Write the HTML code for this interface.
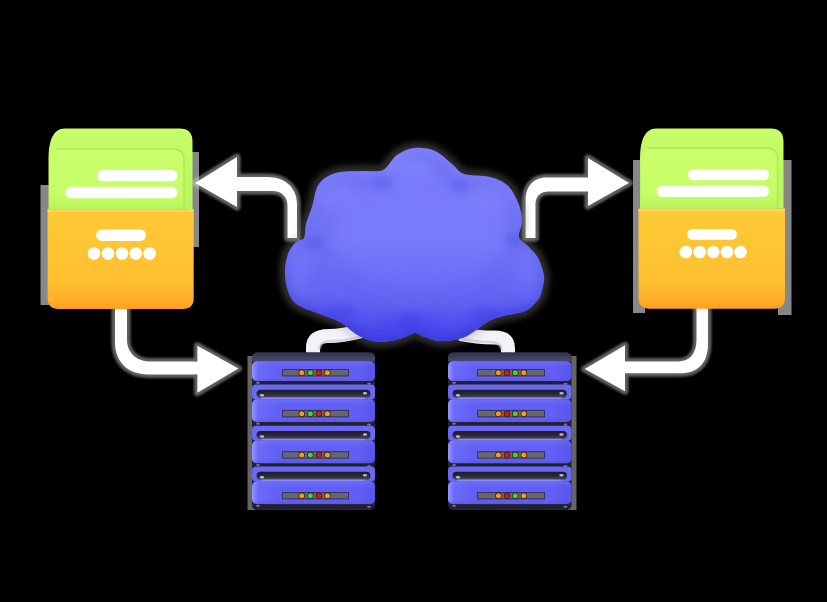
<!DOCTYPE html>
<html><head><meta charset="utf-8"><style>
html,body{margin:0;padding:0;background:#000;width:827px;height:602px;overflow:hidden}
svg{display:block}
</style></head><body>
<svg width="827" height="602" viewBox="0 0 827 602">
<defs>
<linearGradient id="gBack" x1="0" y1="0" x2="0" y2="1"><stop offset="0" stop-color="#c6fd68"/><stop offset="1" stop-color="#bbf45e"/></linearGradient>
<linearGradient id="gFront" x1="0" y1="0" x2="0" y2="1"><stop offset="0" stop-color="#cbff6c"/><stop offset="0.75" stop-color="#c6fd66"/><stop offset="1" stop-color="#b9f35c"/></linearGradient>
<linearGradient id="gOrange" x1="0" y1="0" x2="0" y2="1"><stop offset="0" stop-color="#ffca36"/><stop offset="0.7" stop-color="#ffc030"/><stop offset="0.9" stop-color="#ffb02a"/><stop offset="1" stop-color="#ff9e20"/></linearGradient>
<linearGradient id="gFace" x1="0" y1="0" x2="1" y2="0"><stop offset="0" stop-color="#9896ff"/><stop offset="0.05" stop-color="#6c6af8"/><stop offset="0.2" stop-color="#6260f4"/><stop offset="0.85" stop-color="#6260f4"/><stop offset="1" stop-color="#5856ea"/></linearGradient><linearGradient id="gFaceV" x1="0" y1="0" x2="0" y2="1"><stop offset="0" stop-color="#8886ff" stop-opacity="0.35"/><stop offset="0.3" stop-color="#7674ff" stop-opacity="0"/><stop offset="0.8" stop-color="#4a48d0" stop-opacity="0"/><stop offset="1" stop-color="#4a48d0" stop-opacity="0.35"/></linearGradient><linearGradient id="gCap" x1="0" y1="0" x2="0" y2="1"><stop offset="0" stop-color="#30304a"/><stop offset="1" stop-color="#4a4a70"/></linearGradient>
<radialGradient id="gCloud" gradientUnits="userSpaceOnUse" cx="405" cy="230" r="150"><stop offset="0" stop-color="#7a7bfa"/><stop offset="0.6" stop-color="#6e70f2"/><stop offset="1" stop-color="#5250dc"/></radialGradient>
<filter id="blur8" x="-50%" y="-50%" width="200%" height="200%"><feGaussianBlur stdDeviation="8"/></filter>
<filter id="blur3" x="-50%" y="-50%" width="200%" height="200%"><feGaussianBlur stdDeviation="3"/></filter>
<linearGradient id="gRim" gradientUnits="userSpaceOnUse" x1="0" y1="150" x2="0" y2="340"><stop offset="0" stop-color="#8a8cff" stop-opacity="0.5"/><stop offset="0.5" stop-color="#6a6cf0" stop-opacity="0.3"/><stop offset="1" stop-color="#3a38d8" stop-opacity="0.8"/></linearGradient>
<linearGradient id="gCloudDark" x1="0" y1="0" x2="0" y2="1"><stop offset="0" stop-color="#4644f0" stop-opacity="0"/><stop offset="0.5" stop-color="#4644f0" stop-opacity="0.3"/><stop offset="1" stop-color="#4240ec" stop-opacity="0.6"/></linearGradient>
<filter id="blur1" x="-50%" y="-50%" width="200%" height="200%"><feGaussianBlur stdDeviation="1.2"/></filter>
<linearGradient id="gSlot" x1="0" y1="0" x2="0" y2="1"><stop offset="0" stop-color="#1c1c28"/><stop offset="0.55" stop-color="#2a2a38"/><stop offset="1" stop-color="#4a4a5c"/></linearGradient>
<filter id="blur05" x="-50%" y="-50%" width="200%" height="200%"><feGaussianBlur stdDeviation="0.7"/></filter>
</defs>
<rect width="827" height="602" fill="#000"/>
<g fill="#c0c0c0" opacity="0.7" filter="url(#blur05)">
<rect x="40.5" y="185" width="12" height="120"/>
<rect x="188" y="152" width="11" height="95"/>
<rect x="633" y="160" width="12" height="153"/>
<rect x="778" y="160" width="13.5" height="155"/>
</g>
<g fill="#a8a8a8" opacity="0.6" filter="url(#blur05)">
<rect x="247.5" y="356" width="8" height="154"/>
<rect x="568" y="356" width="8.5" height="154"/>
</g>

<g opacity="0.45" filter="url(#blur1)" fill="#d4d4d4" stroke="#d4d4d4" stroke-width="7" stroke-linejoin="round"><path d="M236,177 L268,177 C285,177 297,188 297,204 L297,238 L287.5,238 L287.5,206 C287.5,197 282,191 272,191 L236,191 Z"/><polygon points="237,157 195,183 237,207"/></g>
<path d="M236,177 L268,177 C285,177 297,188 297,204 L297,238 L287.5,238 L287.5,206 C287.5,197 282,191 272,191 L236,191 Z" fill="#ffffff"/>
<polygon points="237,157 195,183 237,207" fill="#ffffff"/>
<g opacity="0.45" filter="url(#blur1)" fill="#d4d4d4" stroke="#d4d4d4" stroke-width="7" stroke-linejoin="round"><path d="M589,177.5 L546,177.5 C533,177.5 525.6,187 525.6,200 L525.6,238 L535.5,238 L535.5,204 C535.5,196 541,191.5 549,191.5 L589,191.5 Z"/><polygon points="588,158 629,183 588,206"/></g>
<path d="M589,177.5 L546,177.5 C533,177.5 525.6,187 525.6,200 L525.6,238 L535.5,238 L535.5,204 C535.5,196 541,191.5 549,191.5 L589,191.5 Z" fill="#ffffff"/>
<polygon points="588,158 629,183 588,206" fill="#ffffff"/>
<g opacity="0.45" filter="url(#blur1)" fill="#d4d4d4" stroke="#d4d4d4" stroke-width="7" stroke-linejoin="round"><path d="M115,308 L115,342 C115,362 128,374.4 148,374.4 L199,374.4 L199,361.5 L150,361.5 C136,361.5 127,352 127,340 L127,308 Z"/><polygon points="197.4,345.8 238.5,368.5 197.4,392.8"/></g>
<path d="M115,308 L115,342 C115,362 128,374.4 148,374.4 L199,374.4 L199,361.5 L150,361.5 C136,361.5 127,352 127,340 L127,308 Z" fill="#ffffff"/>
<polygon points="197.4,345.8 238.5,368.5 197.4,392.8" fill="#ffffff"/>
<g opacity="0.45" filter="url(#blur1)" fill="#d4d4d4" stroke="#d4d4d4" stroke-width="7" stroke-linejoin="round"><path d="M696.5,308 L696.5,340 C696.5,353 690,361.5 678,361.5 L623,361.5 L623,373.3 L680,373.3 C698,373.3 708,363 708,344 L708,308 Z"/><polygon points="625,345.3 584.7,369 625,391.2"/></g>
<path d="M696.5,308 L696.5,340 C696.5,353 690,361.5 678,361.5 L623,361.5 L623,373.3 L680,373.3 C698,373.3 708,363 708,344 L708,308 Z" fill="#ffffff"/>
<polygon points="625,345.3 584.7,369 625,391.2" fill="#ffffff"/>
<path d="M313,356 L313,348 C313,339 318,336 329,336 C342,336 350,334 362,331" fill="none" stroke="#f2f2f8" stroke-width="14"/>
<path d="M319,350 C320,343 324,341 332,341 C343,341 352,339 362,336" fill="none" stroke="#c8c8dc" stroke-width="2.5" opacity="0.7"/>
<path d="M508,356 L508,348 C508,340 504,337.5 494,337.5 C482,337.5 474,337 460,334" fill="none" stroke="#f2f2f8" stroke-width="14"/>
<path d="M502,350 C501,345 498,342 490,342 C480,342 472,341 462,339" fill="none" stroke="#c8c8dc" stroke-width="2.5" opacity="0.7"/>

<clipPath id="cloudClip"><path d="M415.0,148.0 C421.3,147.3 428.8,148.3 435.0,151.0 C441.2,153.7 447.2,160.2 452.0,164.0 C456.8,167.8 457.7,171.8 464.0,174.0 C470.3,176.2 482.7,175.0 490.0,177.0 C497.3,179.0 503.2,181.3 508.0,186.0 C512.8,190.7 516.7,199.0 519.0,205.0 C521.3,211.0 522.0,216.7 522.0,222.0 C522.0,227.3 518.0,233.0 519.0,237.0 C520.0,241.0 524.8,242.5 528.0,246.0 C531.2,249.5 535.3,253.0 538.0,258.0 C540.7,263.0 543.3,270.7 544.0,276.0 C544.7,281.3 543.0,286.0 542.0,290.0 C541.0,294.0 540.8,296.5 538.0,300.0 C535.2,303.5 530.8,308.3 525.0,311.0 C519.2,313.7 509.0,314.3 503.0,316.0 C497.0,317.7 493.5,318.7 489.0,321.0 C484.5,323.3 480.5,327.2 476.0,330.0 C471.5,332.8 468.0,336.2 462.0,338.0 C456.0,339.8 446.2,341.2 440.0,341.0 C433.8,340.8 429.2,338.3 425.0,337.0 C420.8,335.7 418.3,333.0 415.0,333.0 C411.7,333.0 409.2,335.7 405.0,337.0 C400.8,338.3 395.5,340.3 390.0,341.0 C384.5,341.7 377.7,342.2 372.0,341.0 C366.3,339.8 361.3,337.2 356.0,334.0 C350.7,330.8 346.0,325.3 340.0,322.0 C334.0,318.7 326.7,316.7 320.0,314.0 C313.3,311.3 305.0,309.0 300.0,306.0 C295.0,303.0 292.5,301.3 290.0,296.0 C287.5,290.7 285.3,281.0 285.0,274.0 C284.7,267.0 286.2,259.3 288.0,254.0 C289.8,248.7 293.3,244.7 296.0,242.0 C298.7,239.3 302.3,241.0 304.0,238.0 C305.7,235.0 304.7,229.2 306.0,224.0 C307.3,218.8 309.8,213.7 312.0,207.0 C314.2,200.3 315.0,189.7 319.0,184.0 C323.0,178.3 328.8,175.2 336.0,173.0 C343.2,170.8 354.2,171.5 362.0,171.0 C369.8,170.5 377.2,172.7 383.0,170.0 C388.8,167.3 391.7,158.7 397.0,155.0 C402.3,151.3 408.7,148.7 415.0,148.0 Z"/></clipPath>
<path d="M415.0,148.0 C421.3,147.3 428.8,148.3 435.0,151.0 C441.2,153.7 447.2,160.2 452.0,164.0 C456.8,167.8 457.7,171.8 464.0,174.0 C470.3,176.2 482.7,175.0 490.0,177.0 C497.3,179.0 503.2,181.3 508.0,186.0 C512.8,190.7 516.7,199.0 519.0,205.0 C521.3,211.0 522.0,216.7 522.0,222.0 C522.0,227.3 518.0,233.0 519.0,237.0 C520.0,241.0 524.8,242.5 528.0,246.0 C531.2,249.5 535.3,253.0 538.0,258.0 C540.7,263.0 543.3,270.7 544.0,276.0 C544.7,281.3 543.0,286.0 542.0,290.0 C541.0,294.0 540.8,296.5 538.0,300.0 C535.2,303.5 530.8,308.3 525.0,311.0 C519.2,313.7 509.0,314.3 503.0,316.0 C497.0,317.7 493.5,318.7 489.0,321.0 C484.5,323.3 480.5,327.2 476.0,330.0 C471.5,332.8 468.0,336.2 462.0,338.0 C456.0,339.8 446.2,341.2 440.0,341.0 C433.8,340.8 429.2,338.3 425.0,337.0 C420.8,335.7 418.3,333.0 415.0,333.0 C411.7,333.0 409.2,335.7 405.0,337.0 C400.8,338.3 395.5,340.3 390.0,341.0 C384.5,341.7 377.7,342.2 372.0,341.0 C366.3,339.8 361.3,337.2 356.0,334.0 C350.7,330.8 346.0,325.3 340.0,322.0 C334.0,318.7 326.7,316.7 320.0,314.0 C313.3,311.3 305.0,309.0 300.0,306.0 C295.0,303.0 292.5,301.3 290.0,296.0 C287.5,290.7 285.3,281.0 285.0,274.0 C284.7,267.0 286.2,259.3 288.0,254.0 C289.8,248.7 293.3,244.7 296.0,242.0 C298.7,239.3 302.3,241.0 304.0,238.0 C305.7,235.0 304.7,229.2 306.0,224.0 C307.3,218.8 309.8,213.7 312.0,207.0 C314.2,200.3 315.0,189.7 319.0,184.0 C323.0,178.3 328.8,175.2 336.0,173.0 C343.2,170.8 354.2,171.5 362.0,171.0 C369.8,170.5 377.2,172.7 383.0,170.0 C388.8,167.3 391.7,158.7 397.0,155.0 C402.3,151.3 408.7,148.7 415.0,148.0 Z" fill="none" stroke="#9a9a9a" stroke-width="11" opacity="0.3" filter="url(#blur3)"/>
<path d="M415.0,148.0 C421.3,147.3 428.8,148.3 435.0,151.0 C441.2,153.7 447.2,160.2 452.0,164.0 C456.8,167.8 457.7,171.8 464.0,174.0 C470.3,176.2 482.7,175.0 490.0,177.0 C497.3,179.0 503.2,181.3 508.0,186.0 C512.8,190.7 516.7,199.0 519.0,205.0 C521.3,211.0 522.0,216.7 522.0,222.0 C522.0,227.3 518.0,233.0 519.0,237.0 C520.0,241.0 524.8,242.5 528.0,246.0 C531.2,249.5 535.3,253.0 538.0,258.0 C540.7,263.0 543.3,270.7 544.0,276.0 C544.7,281.3 543.0,286.0 542.0,290.0 C541.0,294.0 540.8,296.5 538.0,300.0 C535.2,303.5 530.8,308.3 525.0,311.0 C519.2,313.7 509.0,314.3 503.0,316.0 C497.0,317.7 493.5,318.7 489.0,321.0 C484.5,323.3 480.5,327.2 476.0,330.0 C471.5,332.8 468.0,336.2 462.0,338.0 C456.0,339.8 446.2,341.2 440.0,341.0 C433.8,340.8 429.2,338.3 425.0,337.0 C420.8,335.7 418.3,333.0 415.0,333.0 C411.7,333.0 409.2,335.7 405.0,337.0 C400.8,338.3 395.5,340.3 390.0,341.0 C384.5,341.7 377.7,342.2 372.0,341.0 C366.3,339.8 361.3,337.2 356.0,334.0 C350.7,330.8 346.0,325.3 340.0,322.0 C334.0,318.7 326.7,316.7 320.0,314.0 C313.3,311.3 305.0,309.0 300.0,306.0 C295.0,303.0 292.5,301.3 290.0,296.0 C287.5,290.7 285.3,281.0 285.0,274.0 C284.7,267.0 286.2,259.3 288.0,254.0 C289.8,248.7 293.3,244.7 296.0,242.0 C298.7,239.3 302.3,241.0 304.0,238.0 C305.7,235.0 304.7,229.2 306.0,224.0 C307.3,218.8 309.8,213.7 312.0,207.0 C314.2,200.3 315.0,189.7 319.0,184.0 C323.0,178.3 328.8,175.2 336.0,173.0 C343.2,170.8 354.2,171.5 362.0,171.0 C369.8,170.5 377.2,172.7 383.0,170.0 C388.8,167.3 391.7,158.7 397.0,155.0 C402.3,151.3 408.7,148.7 415.0,148.0 Z" fill="#7173f4"/>
<g clip-path="url(#cloudClip)">
<g filter="url(#blur8)">
<ellipse cx="420" cy="235" rx="85" ry="55" fill="#7b7dfb" opacity="0.8"/>
<ellipse cx="410" cy="168" rx="26" ry="12" fill="#8587ff" opacity="0.7"/>
<ellipse cx="335" cy="195" rx="22" ry="14" fill="#8284fd" opacity="0.6"/>
<ellipse cx="490" cy="198" rx="22" ry="14" fill="#8284fd" opacity="0.6"/>
<ellipse cx="300" cy="272" rx="10" ry="22" fill="#8486ff" opacity="0.5"/>
<ellipse cx="528" cy="272" rx="10" ry="20" fill="#8486ff" opacity="0.5"/>
<ellipse cx="415" cy="345" rx="150" ry="30" fill="#4644ea" opacity="0.8"/>
<ellipse cx="305" cy="320" rx="30" ry="15" fill="#4644ea" opacity="0.5"/>
<ellipse cx="525" cy="320" rx="30" ry="15" fill="#4644ea" opacity="0.5"/>
</g>
<g filter="url(#blur3)">
<ellipse cx="342" cy="312" rx="16" ry="8" fill="#3e3ce0" opacity="0.45"/>
<ellipse cx="411" cy="322" rx="12" ry="9" fill="#3e3ce0" opacity="0.5"/>
<ellipse cx="485" cy="314" rx="16" ry="8" fill="#3e3ce0" opacity="0.45"/>
<ellipse cx="383" cy="183" rx="10" ry="7" fill="#5a5ae8" opacity="0.45"/>
<ellipse cx="460" cy="186" rx="10" ry="7" fill="#5a5ae8" opacity="0.45"/>
<ellipse cx="314" cy="242" rx="10" ry="8" fill="#5252e4" opacity="0.45"/>
<ellipse cx="516" cy="240" rx="10" ry="8" fill="#5252e4" opacity="0.45"/>
<ellipse cx="372" cy="318" rx="16" ry="7" fill="#6a6af4" opacity="0.35"/>
<ellipse cx="450" cy="320" rx="16" ry="7" fill="#6a6af4" opacity="0.35"/>
</g>
<rect x="280" y="240" width="270" height="110" fill="url(#gCloudDark)"/>
<path d="M415.0,148.0 C421.3,147.3 428.8,148.3 435.0,151.0 C441.2,153.7 447.2,160.2 452.0,164.0 C456.8,167.8 457.7,171.8 464.0,174.0 C470.3,176.2 482.7,175.0 490.0,177.0 C497.3,179.0 503.2,181.3 508.0,186.0 C512.8,190.7 516.7,199.0 519.0,205.0 C521.3,211.0 522.0,216.7 522.0,222.0 C522.0,227.3 518.0,233.0 519.0,237.0 C520.0,241.0 524.8,242.5 528.0,246.0 C531.2,249.5 535.3,253.0 538.0,258.0 C540.7,263.0 543.3,270.7 544.0,276.0 C544.7,281.3 543.0,286.0 542.0,290.0 C541.0,294.0 540.8,296.5 538.0,300.0 C535.2,303.5 530.8,308.3 525.0,311.0 C519.2,313.7 509.0,314.3 503.0,316.0 C497.0,317.7 493.5,318.7 489.0,321.0 C484.5,323.3 480.5,327.2 476.0,330.0 C471.5,332.8 468.0,336.2 462.0,338.0 C456.0,339.8 446.2,341.2 440.0,341.0 C433.8,340.8 429.2,338.3 425.0,337.0 C420.8,335.7 418.3,333.0 415.0,333.0 C411.7,333.0 409.2,335.7 405.0,337.0 C400.8,338.3 395.5,340.3 390.0,341.0 C384.5,341.7 377.7,342.2 372.0,341.0 C366.3,339.8 361.3,337.2 356.0,334.0 C350.7,330.8 346.0,325.3 340.0,322.0 C334.0,318.7 326.7,316.7 320.0,314.0 C313.3,311.3 305.0,309.0 300.0,306.0 C295.0,303.0 292.5,301.3 290.0,296.0 C287.5,290.7 285.3,281.0 285.0,274.0 C284.7,267.0 286.2,259.3 288.0,254.0 C289.8,248.7 293.3,244.7 296.0,242.0 C298.7,239.3 302.3,241.0 304.0,238.0 C305.7,235.0 304.7,229.2 306.0,224.0 C307.3,218.8 309.8,213.7 312.0,207.0 C314.2,200.3 315.0,189.7 319.0,184.0 C323.0,178.3 328.8,175.2 336.0,173.0 C343.2,170.8 354.2,171.5 362.0,171.0 C369.8,170.5 377.2,172.7 383.0,170.0 C388.8,167.3 391.7,158.7 397.0,155.0 C402.3,151.3 408.7,148.7 415.0,148.0 Z" fill="none" stroke="url(#gRim)" stroke-width="10" filter="url(#blur3)"/>
</g>

<path d="M48.5,209.3 L48.5,158.4 C48.5,140.4 53.5,128.4 64.5,128.4 L179.5,128.4 Q192.5,128.4 192.5,141.4 L192.5,209.3 Z" fill="url(#gBack)"/>
<path d="M49.5,209.3 L49.5,163 C49.5,155 53.5,149 62.5,149 L173,149 Q184,149 184,160 L184,209.3 Z" fill="url(#gFront)"/>
<path d="M56.5,149 L173,149 Q184,149 184,160 L184,209.3" fill="none" stroke="#a6e24e" stroke-width="1.3" opacity="0.8"/>
<path d="M56.5,150.3 L173,150.3" fill="none" stroke="#d4ff80" stroke-width="1" opacity="0.6"/>
<rect x="97" y="170" width="80.5" height="11.300000000000011" rx="5.650000000000006" fill="#ffffff"/>
<rect x="65.5" y="186.8" width="112.0" height="11.399999999999977" rx="5.699999999999989" fill="#ffffff"/>
<path d="M47.6,209.3 L193.7,209.3 L193.7,298 Q193.7,309 182.7,309 L58.6,309 Q47.6,309 47.6,298 Z" fill="url(#gOrange)"/>
<rect x="47.6" y="209.3" width="146.1" height="2.5" fill="#ffd860" opacity="0.9"/>
<rect x="96" y="229.6" width="50" height="11.400000000000006" rx="5.700000000000003" fill="#ffffff"/>
<circle cx="94" cy="253.5" r="6.3" fill="#ffffff"/>
<circle cx="108" cy="253.5" r="6.3" fill="#ffffff"/>
<circle cx="122" cy="253.5" r="6.3" fill="#ffffff"/>
<circle cx="135.8" cy="253.5" r="6.3" fill="#ffffff"/>
<circle cx="149.6" cy="253.5" r="6.3" fill="#ffffff"/>
<path d="M640,208.8 L640,158.4 C640,140.4 645,128.4 656,128.4 L770.5,128.4 Q783.5,128.4 783.5,141.4 L783.5,208.8 Z" fill="url(#gBack)"/>
<path d="M641,208.8 L641,162 C641,154 645,148 654,148 L766.6,148 Q777.6,148 777.6,159 L777.6,208.8 Z" fill="url(#gFront)"/>
<path d="M648,148 L766.6,148 Q777.6,148 777.6,159 L777.6,208.8" fill="none" stroke="#a6e24e" stroke-width="1.3" opacity="0.8"/>
<path d="M648,149.3 L766.6,149.3" fill="none" stroke="#d4ff80" stroke-width="1" opacity="0.6"/>
<rect x="688" y="169" width="81" height="11.300000000000011" rx="5.650000000000006" fill="#ffffff"/>
<rect x="656.6" y="185.7" width="112.39999999999998" height="11.300000000000011" rx="5.650000000000006" fill="#ffffff"/>
<path d="M638.5,208.8 L785,208.8 L785,297.8 Q785,308.8 774,308.8 L649.5,308.8 Q638.5,308.8 638.5,297.8 Z" fill="url(#gOrange)"/>
<rect x="638.5" y="208.8" width="146.5" height="2.5" fill="#ffd860" opacity="0.9"/>
<rect x="687" y="229" width="50" height="10.800000000000011" rx="5.400000000000006" fill="#ffffff"/>
<circle cx="685.8" cy="252" r="6.3" fill="#ffffff"/>
<circle cx="699.7" cy="252" r="6.3" fill="#ffffff"/>
<circle cx="713.3" cy="252" r="6.3" fill="#ffffff"/>
<circle cx="727" cy="252" r="6.3" fill="#ffffff"/>
<circle cx="740.5" cy="252" r="6.3" fill="#ffffff"/>
<rect x="252" y="353" width="123" height="157" rx="5" fill="#23233c"/>
<path d="M252,361.3 L252,357.8 Q252,352.3 258,352.3 L369,352.3 Q375,352.3 375,357.8 L375,361.3 Z" fill="url(#gCap)"/>
<rect x="252" y="361.3" width="123" height="20.0" rx="5" fill="url(#gFace)"/>
<rect x="252" y="361.3" width="123" height="20.0" rx="5" fill="url(#gFaceV)"/>
<rect x="253" y="381.3" width="121" height="4" rx="2" fill="#22202e"/>
<ellipse cx="258" cy="382.8" rx="2" ry="1.1" fill="#d8d8ff" opacity="0.45"/>
<ellipse cx="369" cy="383.8" rx="2" ry="1.1" fill="#d8d8ff" opacity="0.45"/>
<rect x="282" y="369.0" width="67" height="7.4" fill="#666670"/>
<rect x="282.5" y="369.5" width="66" height="6.4" fill="none" stroke="#34345c" stroke-width="1"/>
<circle cx="301.7" cy="372.8" r="3.2" fill="#3a1a14"/>
<circle cx="301.7" cy="372.8" r="2.5" fill="#eea010"/>
<circle cx="310.4" cy="372.8" r="3.2" fill="#3a1a14"/>
<circle cx="310.4" cy="372.8" r="2.5" fill="#4cd034"/>
<circle cx="319" cy="372.8" r="3.2" fill="#3a1a14"/>
<circle cx="319" cy="372.8" r="2.5" fill="#c82018"/>
<circle cx="327.4" cy="372.8" r="3.2" fill="#3a1a14"/>
<circle cx="327.4" cy="372.8" r="2.5" fill="#eea010"/>
<rect x="252" y="384.5" width="123" height="15" rx="4" fill="#6a68f4"/>
<rect x="256.5" y="389.7" width="114" height="8" rx="4" fill="url(#gSlot)"/>
<ellipse cx="262" cy="395.2" rx="2.2" ry="1.3" fill="#e8e8ff" opacity="0.75"/>
<ellipse cx="365" cy="393.2" rx="2.2" ry="1.3" fill="#e8e8ff" opacity="0.75"/>
<rect x="262" y="397.4" width="103" height="1.8" fill="#8e8cff" opacity="0.9"/>
<rect x="252" y="399.2" width="123" height="23.0" rx="5" fill="url(#gFace)"/>
<rect x="252" y="399.2" width="123" height="23.0" rx="5" fill="url(#gFaceV)"/>
<rect x="253" y="422.2" width="121" height="4" rx="2" fill="#22202e"/>
<ellipse cx="258" cy="423.7" rx="2" ry="1.1" fill="#d8d8ff" opacity="0.45"/>
<ellipse cx="369" cy="424.7" rx="2" ry="1.1" fill="#d8d8ff" opacity="0.45"/>
<rect x="282" y="409.9" width="67" height="7.4" fill="#666670"/>
<rect x="282.5" y="410.4" width="66" height="6.4" fill="none" stroke="#34345c" stroke-width="1"/>
<circle cx="301.7" cy="413.7" r="3.2" fill="#3a1a14"/>
<circle cx="301.7" cy="413.7" r="2.5" fill="#eea010"/>
<circle cx="310.4" cy="413.7" r="3.2" fill="#3a1a14"/>
<circle cx="310.4" cy="413.7" r="2.5" fill="#4cd034"/>
<circle cx="319" cy="413.7" r="3.2" fill="#3a1a14"/>
<circle cx="319" cy="413.7" r="2.5" fill="#c82018"/>
<circle cx="327.4" cy="413.7" r="3.2" fill="#3a1a14"/>
<circle cx="327.4" cy="413.7" r="2.5" fill="#eea010"/>
<rect x="252" y="425.8" width="123" height="15" rx="4" fill="#6a68f4"/>
<rect x="256.5" y="431.0" width="114" height="8" rx="4" fill="url(#gSlot)"/>
<ellipse cx="262" cy="436.5" rx="2.2" ry="1.3" fill="#e8e8ff" opacity="0.75"/>
<ellipse cx="365" cy="434.5" rx="2.2" ry="1.3" fill="#e8e8ff" opacity="0.75"/>
<rect x="262" y="438.7" width="103" height="1.8" fill="#8e8cff" opacity="0.9"/>
<rect x="252" y="440.5" width="123" height="23.0" rx="5" fill="url(#gFace)"/>
<rect x="252" y="440.5" width="123" height="23.0" rx="5" fill="url(#gFaceV)"/>
<rect x="253" y="463.5" width="121" height="4" rx="2" fill="#22202e"/>
<ellipse cx="258" cy="465.0" rx="2" ry="1.1" fill="#d8d8ff" opacity="0.45"/>
<ellipse cx="369" cy="466.0" rx="2" ry="1.1" fill="#d8d8ff" opacity="0.45"/>
<rect x="282" y="451.2" width="67" height="7.4" fill="#666670"/>
<rect x="282.5" y="451.7" width="66" height="6.4" fill="none" stroke="#34345c" stroke-width="1"/>
<circle cx="301.7" cy="455.0" r="3.2" fill="#3a1a14"/>
<circle cx="301.7" cy="455.0" r="2.5" fill="#eea010"/>
<circle cx="310.4" cy="455.0" r="3.2" fill="#3a1a14"/>
<circle cx="310.4" cy="455.0" r="2.5" fill="#4cd034"/>
<circle cx="319" cy="455.0" r="3.2" fill="#3a1a14"/>
<circle cx="319" cy="455.0" r="2.5" fill="#c82018"/>
<circle cx="327.4" cy="455.0" r="3.2" fill="#3a1a14"/>
<circle cx="327.4" cy="455.0" r="2.5" fill="#eea010"/>
<rect x="252" y="466.6" width="123" height="15" rx="4" fill="#6a68f4"/>
<rect x="256.5" y="471.8" width="114" height="8" rx="4" fill="url(#gSlot)"/>
<ellipse cx="262" cy="477.3" rx="2.2" ry="1.3" fill="#e8e8ff" opacity="0.75"/>
<ellipse cx="365" cy="475.3" rx="2.2" ry="1.3" fill="#e8e8ff" opacity="0.75"/>
<rect x="262" y="479.5" width="103" height="1.8" fill="#8e8cff" opacity="0.9"/>
<rect x="252" y="481.3" width="123" height="23.0" rx="5" fill="url(#gFace)"/>
<rect x="252" y="481.3" width="123" height="23.0" rx="5" fill="url(#gFaceV)"/>
<rect x="253" y="504.3" width="121" height="4" rx="2" fill="#22202e"/>
<ellipse cx="258" cy="505.8" rx="2" ry="1.1" fill="#d8d8ff" opacity="0.45"/>
<ellipse cx="369" cy="506.8" rx="2" ry="1.1" fill="#d8d8ff" opacity="0.45"/>
<rect x="282" y="492.0" width="67" height="7.4" fill="#666670"/>
<rect x="282.5" y="492.5" width="66" height="6.4" fill="none" stroke="#34345c" stroke-width="1"/>
<circle cx="301.7" cy="495.8" r="3.2" fill="#3a1a14"/>
<circle cx="301.7" cy="495.8" r="2.5" fill="#eea010"/>
<circle cx="310.4" cy="495.8" r="3.2" fill="#3a1a14"/>
<circle cx="310.4" cy="495.8" r="2.5" fill="#4cd034"/>
<circle cx="319" cy="495.8" r="3.2" fill="#3a1a14"/>
<circle cx="319" cy="495.8" r="2.5" fill="#c82018"/>
<circle cx="327.4" cy="495.8" r="3.2" fill="#3a1a14"/>
<circle cx="327.4" cy="495.8" r="2.5" fill="#eea010"/>
<rect x="448" y="353" width="123.5" height="157" rx="5" fill="#23233c"/>
<path d="M448,361.3 L448,357.8 Q448,352.3 454,352.3 L565.5,352.3 Q571.5,352.3 571.5,357.8 L571.5,361.3 Z" fill="url(#gCap)"/>
<rect x="448" y="361.3" width="123.5" height="20.0" rx="5" fill="url(#gFace)"/>
<rect x="448" y="361.3" width="123.5" height="20.0" rx="5" fill="url(#gFaceV)"/>
<rect x="449" y="381.3" width="121.5" height="4" rx="2" fill="#22202e"/>
<ellipse cx="454" cy="382.8" rx="2" ry="1.1" fill="#d8d8ff" opacity="0.45"/>
<ellipse cx="565.5" cy="383.8" rx="2" ry="1.1" fill="#d8d8ff" opacity="0.45"/>
<rect x="477" y="369.0" width="68" height="7.4" fill="#666670"/>
<rect x="477.5" y="369.5" width="67" height="6.4" fill="none" stroke="#34345c" stroke-width="1"/>
<circle cx="498.4" cy="372.8" r="3.2" fill="#3a1a14"/>
<circle cx="498.4" cy="372.8" r="2.5" fill="#eea010"/>
<circle cx="507" cy="372.8" r="3.2" fill="#3a1a14"/>
<circle cx="507" cy="372.8" r="2.5" fill="#c82018"/>
<circle cx="515.3" cy="372.8" r="3.2" fill="#3a1a14"/>
<circle cx="515.3" cy="372.8" r="2.5" fill="#4cd034"/>
<circle cx="523.8" cy="372.8" r="3.2" fill="#3a1a14"/>
<circle cx="523.8" cy="372.8" r="2.5" fill="#eea010"/>
<rect x="448" y="384.5" width="123.5" height="15" rx="4" fill="#6a68f4"/>
<rect x="452.5" y="389.7" width="114.5" height="8" rx="4" fill="url(#gSlot)"/>
<ellipse cx="458" cy="395.2" rx="2.2" ry="1.3" fill="#e8e8ff" opacity="0.75"/>
<ellipse cx="561.5" cy="393.2" rx="2.2" ry="1.3" fill="#e8e8ff" opacity="0.75"/>
<rect x="458" y="397.4" width="103.5" height="1.8" fill="#8e8cff" opacity="0.9"/>
<rect x="448" y="399.2" width="123.5" height="23.0" rx="5" fill="url(#gFace)"/>
<rect x="448" y="399.2" width="123.5" height="23.0" rx="5" fill="url(#gFaceV)"/>
<rect x="449" y="422.2" width="121.5" height="4" rx="2" fill="#22202e"/>
<ellipse cx="454" cy="423.7" rx="2" ry="1.1" fill="#d8d8ff" opacity="0.45"/>
<ellipse cx="565.5" cy="424.7" rx="2" ry="1.1" fill="#d8d8ff" opacity="0.45"/>
<rect x="477" y="409.9" width="68" height="7.4" fill="#666670"/>
<rect x="477.5" y="410.4" width="67" height="6.4" fill="none" stroke="#34345c" stroke-width="1"/>
<circle cx="498.4" cy="413.7" r="3.2" fill="#3a1a14"/>
<circle cx="498.4" cy="413.7" r="2.5" fill="#eea010"/>
<circle cx="507" cy="413.7" r="3.2" fill="#3a1a14"/>
<circle cx="507" cy="413.7" r="2.5" fill="#c82018"/>
<circle cx="515.3" cy="413.7" r="3.2" fill="#3a1a14"/>
<circle cx="515.3" cy="413.7" r="2.5" fill="#4cd034"/>
<circle cx="523.8" cy="413.7" r="3.2" fill="#3a1a14"/>
<circle cx="523.8" cy="413.7" r="2.5" fill="#eea010"/>
<rect x="448" y="425.8" width="123.5" height="15" rx="4" fill="#6a68f4"/>
<rect x="452.5" y="431.0" width="114.5" height="8" rx="4" fill="url(#gSlot)"/>
<ellipse cx="458" cy="436.5" rx="2.2" ry="1.3" fill="#e8e8ff" opacity="0.75"/>
<ellipse cx="561.5" cy="434.5" rx="2.2" ry="1.3" fill="#e8e8ff" opacity="0.75"/>
<rect x="458" y="438.7" width="103.5" height="1.8" fill="#8e8cff" opacity="0.9"/>
<rect x="448" y="440.5" width="123.5" height="23.0" rx="5" fill="url(#gFace)"/>
<rect x="448" y="440.5" width="123.5" height="23.0" rx="5" fill="url(#gFaceV)"/>
<rect x="449" y="463.5" width="121.5" height="4" rx="2" fill="#22202e"/>
<ellipse cx="454" cy="465.0" rx="2" ry="1.1" fill="#d8d8ff" opacity="0.45"/>
<ellipse cx="565.5" cy="466.0" rx="2" ry="1.1" fill="#d8d8ff" opacity="0.45"/>
<rect x="477" y="451.2" width="68" height="7.4" fill="#666670"/>
<rect x="477.5" y="451.7" width="67" height="6.4" fill="none" stroke="#34345c" stroke-width="1"/>
<circle cx="498.4" cy="455.0" r="3.2" fill="#3a1a14"/>
<circle cx="498.4" cy="455.0" r="2.5" fill="#eea010"/>
<circle cx="507" cy="455.0" r="3.2" fill="#3a1a14"/>
<circle cx="507" cy="455.0" r="2.5" fill="#c82018"/>
<circle cx="515.3" cy="455.0" r="3.2" fill="#3a1a14"/>
<circle cx="515.3" cy="455.0" r="2.5" fill="#4cd034"/>
<circle cx="523.8" cy="455.0" r="3.2" fill="#3a1a14"/>
<circle cx="523.8" cy="455.0" r="2.5" fill="#eea010"/>
<rect x="448" y="466.6" width="123.5" height="15" rx="4" fill="#6a68f4"/>
<rect x="452.5" y="471.8" width="114.5" height="8" rx="4" fill="url(#gSlot)"/>
<ellipse cx="458" cy="477.3" rx="2.2" ry="1.3" fill="#e8e8ff" opacity="0.75"/>
<ellipse cx="561.5" cy="475.3" rx="2.2" ry="1.3" fill="#e8e8ff" opacity="0.75"/>
<rect x="458" y="479.5" width="103.5" height="1.8" fill="#8e8cff" opacity="0.9"/>
<rect x="448" y="481.3" width="123.5" height="23.0" rx="5" fill="url(#gFace)"/>
<rect x="448" y="481.3" width="123.5" height="23.0" rx="5" fill="url(#gFaceV)"/>
<rect x="449" y="504.3" width="121.5" height="4" rx="2" fill="#22202e"/>
<ellipse cx="454" cy="505.8" rx="2" ry="1.1" fill="#d8d8ff" opacity="0.45"/>
<ellipse cx="565.5" cy="506.8" rx="2" ry="1.1" fill="#d8d8ff" opacity="0.45"/>
<rect x="477" y="492.0" width="68" height="7.4" fill="#666670"/>
<rect x="477.5" y="492.5" width="67" height="6.4" fill="none" stroke="#34345c" stroke-width="1"/>
<circle cx="498.4" cy="495.8" r="3.2" fill="#3a1a14"/>
<circle cx="498.4" cy="495.8" r="2.5" fill="#eea010"/>
<circle cx="507" cy="495.8" r="3.2" fill="#3a1a14"/>
<circle cx="507" cy="495.8" r="2.5" fill="#c82018"/>
<circle cx="515.3" cy="495.8" r="3.2" fill="#3a1a14"/>
<circle cx="515.3" cy="495.8" r="2.5" fill="#4cd034"/>
<circle cx="523.8" cy="495.8" r="3.2" fill="#3a1a14"/>
<circle cx="523.8" cy="495.8" r="2.5" fill="#eea010"/>
</svg>
</body></html>
